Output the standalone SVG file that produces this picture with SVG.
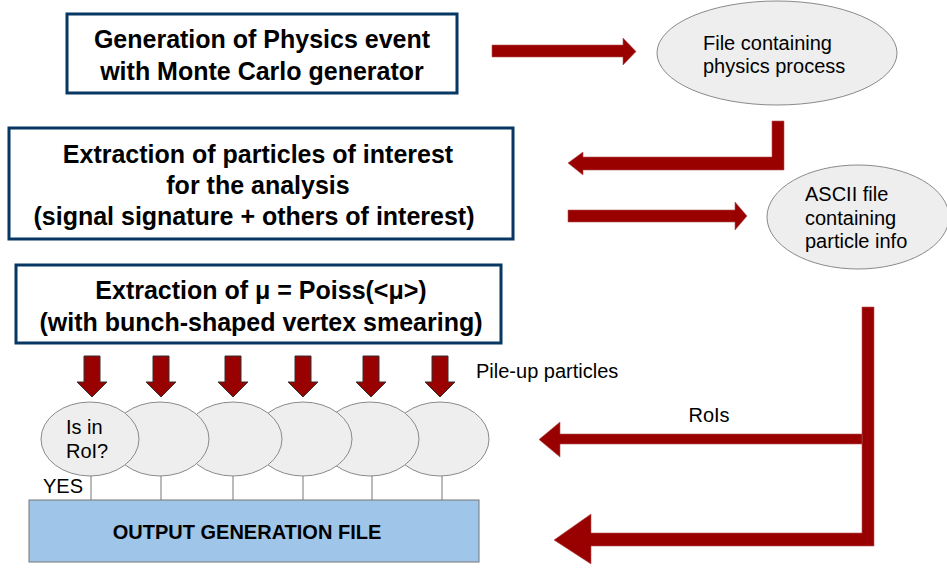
<svg xmlns="http://www.w3.org/2000/svg" width="947" height="570" viewBox="0 0 947 570">
<style>
.box{fill:#ffffff;stroke:#073763;stroke-width:3}
.bt{font-family:"Liberation Sans",Arial,sans-serif;font-weight:bold;font-size:25px;fill:#000;text-anchor:middle}
.ell{fill:#eeeeee;stroke:#8a8a8a;stroke-width:1}
.t{font-family:"Liberation Sans",Arial,sans-serif;font-size:20px;fill:#000}
.arr{fill:#990000;stroke:#b35050;stroke-width:0.6}
.darr{fill:#990000;stroke:#333333;stroke-width:1}
.ln{stroke:#777;stroke-width:1;fill:none}
</style>
<rect width="947" height="570" fill="#ffffff"/>
<g id="gen">
<rect class="box" x="67" y="14" width="390" height="79"/>
<text class="bt" x="262" y="48">Generation of Physics event</text>
<text class="bt" x="262" y="80">with Monte Carlo generator</text>
</g>
<g id="extract">
<rect class="box" x="9" y="128" width="504" height="111"/>
<text class="bt" x="258" y="163">Extraction of particles of interest</text>
<text class="bt" x="258" y="194">for the analysis</text>
<text class="bt" x="254" y="225">(signal signature + others of interest)</text>
</g>
<g id="poiss">
<rect class="box" x="16" y="265" width="485" height="78"/>
<text class="bt" x="261" y="299">Extraction of μ = Poiss(&lt;μ&gt;)</text>
<text class="bt" x="261" y="331">(with bunch-shaped vertex smearing)</text>
</g>
<g id="file1">
<ellipse class="ell" cx="777" cy="53" rx="120" ry="52"/>
<text class="t" x="703" y="50">File containing</text>
<text class="t" x="703" y="73">physics process</text>
</g>
<g id="ascii">
<ellipse class="ell" cx="858" cy="217" rx="91" ry="52"/>
<text class="t" x="805" y="201">ASCII file</text>
<text class="t" x="805" y="225">containing</text>
<text class="t" x="805" y="248">particle info</text>
</g>
<g id="pileup">
<ellipse class="ell" cx="440" cy="439" rx="49" ry="37"/>
<ellipse class="ell" cx="370" cy="439" rx="49" ry="37"/>
<ellipse class="ell" cx="303" cy="439" rx="49" ry="37"/>
<ellipse class="ell" cx="233" cy="439" rx="49" ry="37"/>
<ellipse class="ell" cx="160" cy="439" rx="49" ry="37"/>
<ellipse class="ell" cx="90" cy="439" rx="49" ry="37"/>
<text class="t" x="66" y="434">Is in</text>
<text class="t" x="66" y="458">RoI?</text>
<text class="t" x="476" y="378">Pile-up particles</text>
</g>
<g id="output">
<rect x="29" y="500" width="450" height="62" fill="#9fc5e8" stroke="#777" stroke-width="1"/>
<text x="247" y="539" text-anchor="middle" font-family="Liberation Sans, Arial, sans-serif" font-weight="bold" font-size="20px">OUTPUT GENERATION FILE</text>
<text class="t" x="43" y="493" font-size="18px">YES</text>
</g>
<g id="connectors">
<polygon class="arr" points="492,45 623,45 623,38 636,51.5 623,65 623,57 492,57"/>
<polygon class="arr" points="772,121 784,121 784,170 583,170 583,175 568,163 583,152 583,157 772,157"/>
<polygon class="arr" points="568,210 735,210 735,202 747,216 735,230 735,222 568,222"/>
<polygon class="arr" points="862,307 874,307 874,546 591,546 591,564 554,540 591,514 591,533 862,533"/>
<polygon class="arr" points="862,434 862,444 560,444 560,457 539,439.5 560,422 560,434"/>
<polygon class="darr" points="84,356 100,356 100,382 107,382 92,397 77,382 84,382"/>
<polygon class="darr" points="153,356 169,356 169,382 176,382 161,397 146,382 153,382"/>
<polygon class="darr" points="225,356 241,356 241,382 248,382 233,397 218,382 225,382"/>
<polygon class="darr" points="295,356 311,356 311,382 318,382 303,397 288,382 295,382"/>
<polygon class="darr" points="363,356 379,356 379,382 386,382 371,397 356,382 363,382"/>
<polygon class="darr" points="432,356 448,356 448,382 455,382 440,397 425,382 432,382"/>
<text class="t" x="709" y="422" text-anchor="middle">RoIs</text>
<line class="ln" x1="91" y1="476" x2="91" y2="500"/>
<line class="ln" x1="161" y1="476" x2="161" y2="500"/>
<line class="ln" x1="233" y1="476" x2="233" y2="500"/>
<line class="ln" x1="303" y1="476" x2="303" y2="500"/>
<line class="ln" x1="372" y1="476" x2="372" y2="500"/>
<line class="ln" x1="442" y1="476" x2="442" y2="500"/>
</g>
</svg>
